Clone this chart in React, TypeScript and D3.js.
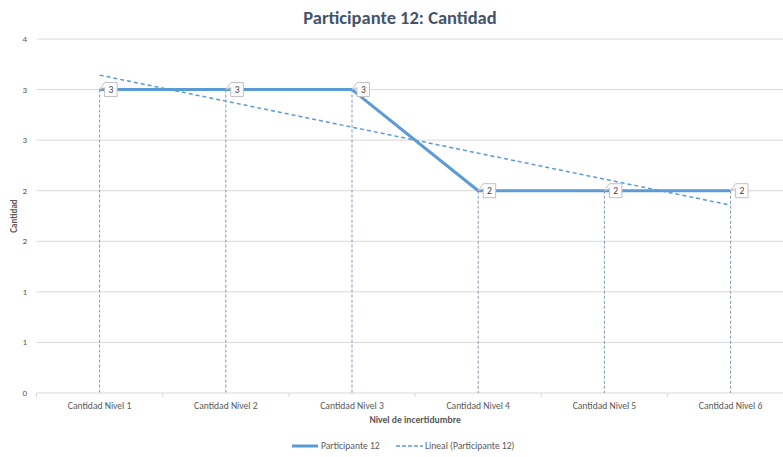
import React from "react";
import * as d3 from "d3";

const categories = ["Cantidad Nivel 1", "Cantidad Nivel 2", "Cantidad Nivel 3", "Cantidad Nivel 4", "Cantidad Nivel 5", "Cantidad Nivel 6"];
const values = [3, 3, 3, 2, 2, 2];
const dataLabels = ["3", "3", "3", "2", "2", "2"];
const yTickValues = [0, 0.5, 1, 1.5, 2, 2.5, 3, 3.5];
const yTickLabels = ["0", "1", "1", "2", "2", "3", "3", "4"];
const seriesName = "Participante 12";
const trendName = "Lineal (Participante 12)";
const title = "Participante 12: Cantidad";
const xTitle = "Nivel de incertidumbre";
const yTitle = "Cantidad";

const W = 783, H = 457;
const FONT = "Carlito, Calibri, Lato, sans-serif";
const BLUE = "#5B9BD5";
const GRID = "#D9D9D9";
const TXT = "#595959";

export default function App() {
  const left = 36.5, right = 793.7, top = 39, bottom = 393;
  const x = d3.scaleBand<string>().domain(categories).range([left, right]);
  const cx = (c: string) => (x(c) as number) + x.bandwidth() / 2;
  const y = d3.scaleLinear().domain([0, 3.5]).range([bottom, top]);

  // linear regression trendline (Excel "Lineal")
  const xs = values.map((_, i) => i + 1);
  const mx = d3.mean(xs) as number, my = d3.mean(values) as number;
  const slope = d3.sum(xs, (xi, i) => (xi - mx) * (values[i] - my)) / d3.sum(xs, (xi) => (xi - mx) ** 2);
  const icpt = my - slope * mx;
  const trend = xs.map((xi, i) => [cx(categories[i]), y(icpt + slope * xi)] as [number, number]);

  const line = d3.line<number>().x((_, i) => cx(categories[i])).y((d) => y(d));
  const tline = d3.line();

  return (
    <svg width={W} height={H} style={{ position: "absolute", left: 0, top: 0, background: "#fff" }} fontFamily={FONT}>
      <rect width={W} height={H} fill="#fff" />
      <text x={400} y={23.5} textAnchor="middle" fontSize={18.5} fontWeight="bold" fill="#44546A">{title}</text>
      {yTickValues.map((v, i) => (
        <g key={i}>
          <line x1={left} x2={right} y1={y(v)} y2={y(v)} stroke={GRID} strokeWidth={1} />
          <text x={27} y={y(v) + 3} textAnchor="end" fontSize={9} fill={TXT}>{yTickLabels[i]}</text>
        </g>
      ))}
      {categories.map((c, i) => (
        <g key={c}>
          <line x1={(x(c) as number)} x2={(x(c) as number)} y1={bottom} y2={bottom + 4} stroke={GRID} />
          <text x={cx(c)} y={408.5} textAnchor="middle" fontSize={9.6} fill={TXT}>{c}</text>
        </g>
      ))}
      {categories.map((c, i) => (
        <line key={"d" + i} x1={cx(c)} x2={cx(c)} y1={y(values[i])} y2={bottom} stroke="#8497B0" strokeWidth={1} strokeDasharray="3,2" />
      ))}
      <path d={line(values) as string} fill="none" stroke={BLUE} strokeWidth={3} strokeLinejoin="round" />
      <path d={tline(trend) as string} fill="none" stroke={BLUE} strokeWidth={1.5} strokeDasharray="4,3" />
      {categories.map((c, i) => {
        const px = cx(c), py = y(values[i]);
        const d = `M${px + 5},${py - 7} H${px + 17.5} V${py + 7} H${px + 5} V${py - 2} L${px},${py} Z`;
        return (
          <g key={"l" + i}>
            <path d={d} fill="#fff" stroke="#BFBFBF" strokeWidth={1} />
            <text x={px + 11.3} y={py + 3.5} textAnchor="middle" fontSize={9.5} fill="#404040">{dataLabels[i]}</text>
          </g>
        );
      })}
      <text transform={`translate(17,${(top + bottom) / 2}) rotate(-90)`} textAnchor="middle" fontSize={9} fontWeight="bold" fill={TXT}>{yTitle}</text>
      <text x={(left + right) / 2} y={423} textAnchor="middle" fontSize={9.6} fontWeight="bold" fill={TXT}>{xTitle}</text>
      <g>
        <line x1={292} x2={318} y1={446} y2={446} stroke={BLUE} strokeWidth={3} />
        <text x={321} y={449} fontSize={9.6} fill={TXT}>{seriesName}</text>
        <line x1={396} x2={423} y1={446} y2={446} stroke={BLUE} strokeWidth={1.5} strokeDasharray="4,2" />
        <text x={425} y={449} fontSize={9.6} fill={TXT}>{trendName}</text>
      </g>
    </svg>
  );
}
